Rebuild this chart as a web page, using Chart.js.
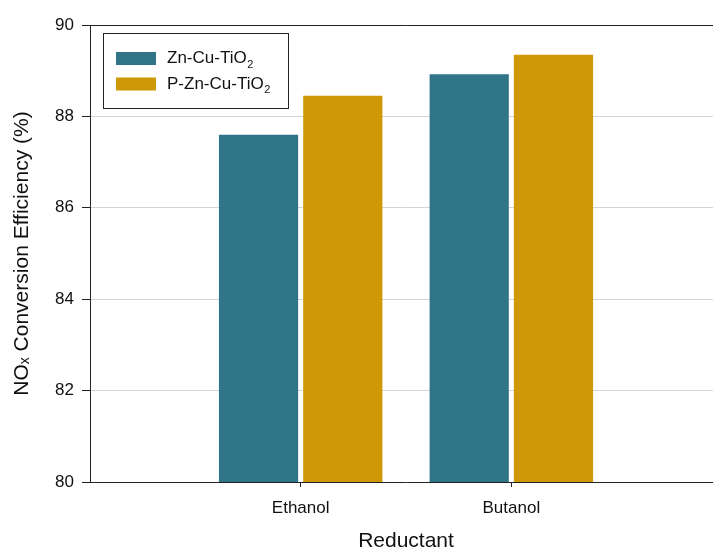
<!DOCTYPE html>
<html>
<head>
<meta charset="utf-8">
<script src="https://cdn.jsdelivr.net/npm/chart.js@4"></script>
<style>
  html, body { margin: 0; padding: 0; background: #fff; overflow: hidden; }
  #wrap { width: 733px; height: 552px; }
</style>
</head>
<body>
<div id="wrap"><canvas id="effChart"></canvas></div>
<script>
// values
var categories = ['Ethanol', 'Butanol'];
var znCuTiO2 = [87.6, 88.92];
var pZnCuTiO2 = [88.45, 89.35];
var yTicks = [80, 82, 84, 86, 88, 90];

var FONT = "'Liberation Sans', Arial, sans-serif";
var DARK = '#222';

// empty slots either side so the two groups sit where they do in the figure
var labels = [''].concat(categories, ['']);
function pad(arr) { return [null].concat(arr, [null]); }

// legend drawn inside the plot with a frame, like the original
var boxLegend = {
  id: 'boxLegend',
  afterDraw: function(chart) {
    var ctx = chart.ctx;
    var x0 = 103, y0 = 33, w = 185, h = 75;
    ctx.save();
    ctx.fillStyle = '#fff';
    ctx.fillRect(x0, y0, w, h);
    ctx.strokeStyle = DARK;
    ctx.lineWidth = 1;
    ctx.strokeRect(x0 + 0.5, y0 + 0.5, w, h);
    chart.data.datasets.forEach(function(ds, i) {
      var cy = 58.5 + i * 25.5;
      ctx.fillStyle = ds.backgroundColor;
      ctx.fillRect(116, cy - 6.5, 40, 13);
      // label with a subscript 2
      var parts = ds.label.split('_');
      ctx.fillStyle = '#111';
      ctx.textBaseline = 'middle';
      ctx.font = '17px ' + FONT;
      ctx.fillText(parts[0], 167, cy);
      var tw = ctx.measureText(parts[0]).width;
      ctx.font = '11px ' + FONT;
      ctx.fillText(parts[1], 167 + tw + 0.5, cy + 6);
    });
    ctx.restore();
  }
};

var ctx = document.getElementById('effChart').getContext('2d');
var effChart = new Chart(ctx, {
  type: 'bar',
  data: {
    labels: labels,
    datasets: [{
      label: 'Zn-Cu-TiO_2',
      data: pad(znCuTiO2),
      backgroundColor: '#307587',
      categoryPercentage: 0.8,
      barPercentage: 0.94
    }, {
      label: 'P-Zn-Cu-TiO_2',
      data: pad(pZnCuTiO2),
      backgroundColor: '#CF9807',
      categoryPercentage: 0.8,
      barPercentage: 0.94
    }]
  },
  options: {
    responsive: true,
    maintainAspectRatio: false,
    animation: false,
    devicePixelRatio: 1,
    layout: { padding: { left: 0, right: 0, top: 25, bottom: 0 } },
    plugins: {
      legend: { display: false },
      tooltip: { enabled: false }
    },
    scales: {
      x: {
        offset: false,
        border: { color: DARK, width: 1 },
        grid: {
          offset: false,
          drawOnChartArea: false,
          drawTicks: true,
          tickLength: 5,
          tickColor: function(c) { return c.tick && c.tick.label === '' ? 'rgba(0,0,0,0)' : DARK; }
        },
        ticks: {
          color: '#111',
          font: { family: FONT, size: 17 },
          padding: 11,
          maxRotation: 0,
          autoSkip: false
        },
        title: {
          display: true,
          text: 'Reductant',
          color: '#111',
          font: { family: FONT, size: 21, lineHeight: 1 },
          padding: { top: 0, bottom: 0 }
        },
        afterFit: function(s) { s.height = 70; }
      },
      y: {
        min: 80,
        max: 90,
        border: { color: DARK, width: 1 },
        grid: {
          color: function(c) { return c.tick && c.tick.value === 90 ? DARK : '#d4d4d4'; },
          tickColor: DARK,
          tickLength: 8
        },
        afterBuildTicks: function(s) {
          s.ticks = yTicks.map(function(v) { return { value: v }; });
        },
        ticks: {
          color: '#111',
          font: { family: FONT, size: 17 },
          padding: 8
        },
        title: {
          display: true,
          text: 'NOₓ Conversion Efficiency (%)',
          color: '#111',
          font: { family: FONT, size: 21, lineHeight: 1 },
          padding: { top: 12, bottom: 0 }
        },
        afterFit: function(s) { s.width = 90; }
      }
    }
  },
  plugins: [boxLegend]
});
</script>
</body>
</html>
